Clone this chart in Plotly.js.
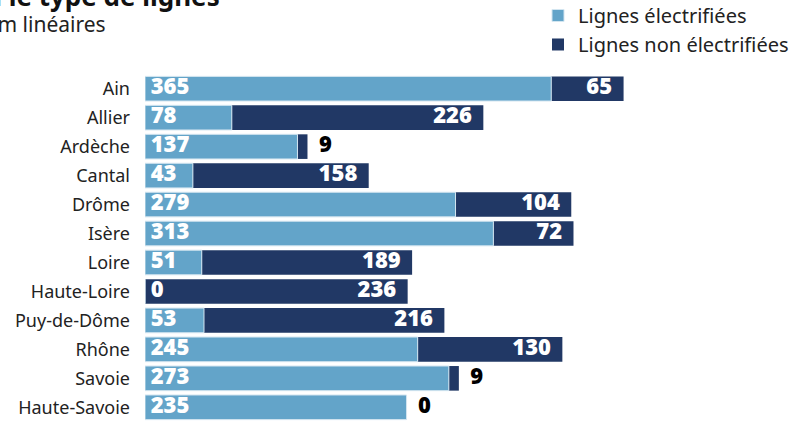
<!DOCTYPE html>
<html>
<head>
<meta charset="utf-8">
<script src="https://cdn.plot.ly/plotly-3.0.1.min.js"></script>
<style>html,body{margin:0;padding:0;background:#fff;}#chart{width:810px;height:425px;}</style>
</head>
<body>
<div id="chart"></div>
<script>
const departements = ["Ain","Allier","Ardèche","Cantal","Drôme","Isère","Loire","Haute-Loire","Puy-de-Dôme","Rhône","Savoie","Haute-Savoie"];
const electrifiees = [365, 78, 137, 43, 279, 313, 51, 0, 53, 245, 273, 235];
const nonElectrifiees = [65, 226, 9, 158, 104, 72, 189, 236, 216, 130, 9, 0];
const serieNames = ["Lignes électrifiées", "Lignes non électrifiées"];
const titre = "Linéaire ferroviaire par département selon le type de lignes";
const sousTitre = "en km linéaires";

const LIGHT = "#63a4c9";
const DARK = "#213865";
const TXT = "Noto Sans, sans-serif";
const numFont = {family: "Open Sans, sans-serif", size: 22, weight: 800};
const NB = "\u00a0";

// totals used to place the label of the second segment at its end
const totals = electrifiees.map((v, i) => v + nonElectrifiees[i]);
const darkOutside = nonElectrifiees.map(v => v < 30);

const traceDark = {
  type: "bar", orientation: "h", name: serieNames[1],
  y: departements, x: nonElectrifiees, base: electrifiees,
  marker: {color: DARK, line: {width: 0}},
  hoverinfo: "skip", legendrank: 2
};
const traceLight = {
  type: "bar", orientation: "h", name: serieNames[0],
  y: departements, x: electrifiees,
  marker: {color: LIGHT, line: {width: 1, color: "#d3e5f0"}},
  hoverinfo: "skip", legendrank: 1
};
const labelsLight = {
  type: "scatter", mode: "text", showlegend: false, hoverinfo: "skip", cliponaxis: false,
  y: departements, x: electrifiees.map(() => 0),
  text: electrifiees.map(v => NB + v), textposition: "middle right",
  textfont: Object.assign({color: "#ffffff"}, numFont)
};
const labelsDark = {
  type: "scatter", mode: "text", showlegend: false, hoverinfo: "skip", cliponaxis: false,
  y: departements, x: totals,
  text: nonElectrifiees.map((v, i) => darkOutside[i] ? NB + NB + v : v + NB + NB),
  textposition: darkOutside.map(o => o ? "middle right" : "middle left"),
  textfont: Object.assign({color: darkOutside.map(o => o ? "#000000" : "#ffffff")}, numFont)
};

const layout = {
  width: 810, height: 425,
  margin: {l: 145, r: 0, t: 71, b: 0, autoexpand: false},
  paper_bgcolor: "#ffffff", plot_bgcolor: "#ffffff",
  barmode: "overlay", bargap: 0.15,
  font: {family: TXT, color: "#222222"},
  xaxis: {range: [0, 597.5], visible: false, fixedrange: true},
  yaxis: {autorange: "reversed", showgrid: false, zeroline: false, showline: false,
          ticks: "", ticklabelstandoff: 14, tickfont: {family: TXT, size: 18, color: "#222222"}},
  showlegend: true,
  legend: {x: 0.591, xanchor: "left", y: 1.2119, yanchor: "top", orientation: "v",
           traceorder: "normal", itemwidth: 30,
           font: {family: TXT, size: 20, color: "#222222"}, bgcolor: "rgba(0,0,0,0)"},
  annotations: [
    {text: "<b>" + titre + "</b>", xref: "paper", yref: "paper", x: 0.1158, y: 1.212,
     xanchor: "right", yanchor: "middle", showarrow: false,
     font: {family: TXT, size: 26, color: "#111111"}},
    {text: sousTitre, xref: "paper", yref: "paper", x: -0.0556, y: 1.1327,
     xanchor: "right", yanchor: "middle", showarrow: false,
     font: {family: TXT, size: 21, color: "#222222"}}
  ]
};

Plotly.newPlot("chart", [traceDark, traceLight, labelsLight, labelsDark], layout, {displayModeBar: false, staticPlot: true});
</script>
</body>
</html>
